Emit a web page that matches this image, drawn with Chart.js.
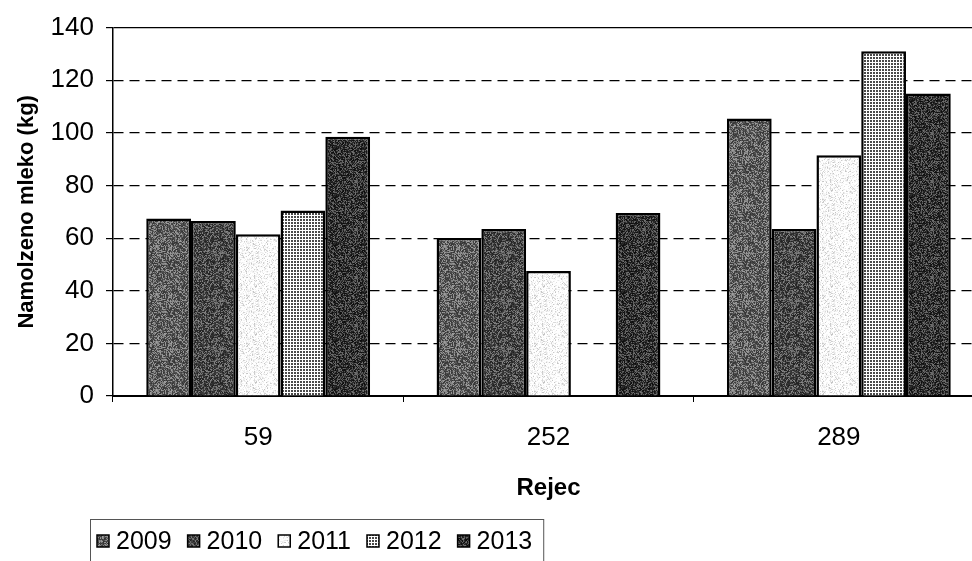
<!DOCTYPE html>
<html>
<head>
<meta charset="utf-8">
<script src="https://cdn.jsdelivr.net/npm/chart.js@4"></script>
<style>
  html, body { margin: 0; padding: 0; background: #fff; overflow: hidden; }
  canvas { display: block; }
</style>
</head>
<body>
<canvas id="myChart" width="1000" height="561"></canvas>
<script>
// cows (by number) and milk yield per year
var cows = ['59', '252', '289'];
var years = ['2009', '2010', '2011', '2012', '2013'];
var milk2009 = [67.5, 60, 105.5];
var milk2010 = [66.5, 63.5, 63.5];
var milk2011 = [61.5, 47.5, 91.5];
var milk2012 = [70.5, null, 131];
var milk2013 = [98.5, 69.5, 115];
var yTicks = [0, 20, 40, 60, 80, 100, 120, 140];

Chart.defaults.font.family = '"Liberation Sans", Arial, sans-serif';
Chart.defaults.color = '#000';

// small deterministic hash for the grainy print textures
function hash(x, y, s) {
    var h = (x * 374761393 + y * 668265263 + s * 982451653) | 0;
    h = Math.imul(h ^ (h >>> 13), 1274126177);
    return ((h ^ (h >>> 16)) >>> 0) / 4294967295;
}

function grain(seed, lo, hi, pLo) {
    var c = document.createElement('canvas');
    c.width = 48; c.height = 48;
    var g = c.getContext('2d');
    var img = g.createImageData(48, 48);
    for (var y = 0; y < 48; y++) {
        for (var x = 0; x < 48; x++) {
            var r = hash(x, y, seed);
            var v = r < pLo ? lo : hi;
            v += (hash(y, x, seed + 7) - 0.5) * 40;
            var i = (y * 48 + x) * 4;
            img.data[i] = img.data[i + 1] = img.data[i + 2] = Math.max(0, Math.min(255, v));
            img.data[i + 3] = 255;
        }
    }
    g.putImageData(img, 0, 0);
    return g.createPattern(c, 'repeat');
}

function dots() {
    var c = document.createElement('canvas');
    c.width = 3; c.height = 3;
    var g = c.getContext('2d');
    g.fillStyle = '#fff';
    g.fillRect(0, 0, 3, 3);
    g.fillStyle = '#4a4a4a';
    g.fillRect(0, 0, 2, 2);
    return g.createPattern(c, 'repeat');
}

var fills = [
    grain(1, 70, 140, 0.6),
    grain(2, 50, 115, 0.62),
    grain(3, 215, 255, 0.18),
    dots(),
    grain(4, 30, 95, 0.6)
];

// legend drawn below the axis title, boxed like the spreadsheet original
var boxLegend = {
    id: 'boxLegend',
    afterDraw: function (chart) {
        var c = chart.ctx;
        c.save();
        c.font = '25px "Liberation Sans", Arial, sans-serif';
        c.textBaseline = 'middle';
        var x = 97, y = 541;
        years.forEach(function (yr, i) {
            c.fillStyle = fills[i];
            c.fillRect(x, y - 6, 12, 12);
            c.strokeStyle = '#000';
            c.lineWidth = 1.5;
            c.strokeRect(x, y - 6, 12, 12);
            c.fillStyle = '#000';
            c.fillText(yr, x + 19, y + 1);
            x += 19 + c.measureText(yr).width + 16;
        });
        c.strokeStyle = '#555';
        c.lineWidth = 1;
        c.strokeRect(90.5, 519.5, x - 90 - 5, 60);
        c.restore();
    }
};

var ctx = document.getElementById('myChart').getContext('2d');
var series = [milk2009, milk2010, milk2011, milk2012, milk2013];

var myChart = new Chart(ctx, {
    type: 'bar',
    data: {
        labels: cows,
        datasets: series.map(function (d, i) {
            return {
                label: years[i],
                data: d,
                backgroundColor: fills[i],
                borderColor: '#000',
                borderWidth: 2.5,
                categoryPercentage: 0.771,
                barPercentage: 1
            };
        })
    },
    options: {
        responsive: false,
        animation: false,
        layout: {
            padding: { top: 27, right: 16, left: 0, bottom: 0 }
        },
        plugins: {
            legend: { display: false },
            tooltip: { enabled: false }
        },
        scales: {
            x: {
                afterFit: function (s) { s.height = 165; },
                grid: {
                    drawOnChartArea: false,
                    drawTicks: true,
                    tickLength: 6,
                    color: '#000'
                },
                border: { color: '#000', width: 2 },
                ticks: {
                    font: { size: 26 },
                    padding: 20
                },
                title: {
                    display: true,
                    text: 'Rejec',
                    font: { size: 24, weight: 'bold' },
                    padding: { top: 0, bottom: 58 }
                }
            },
            y: {
                min: 0,
                max: 140,
                afterFit: function (s) { s.width = 113; },
                afterBuildTicks: function (s) {
                    s.ticks = yTicks.map(function (v) { return { value: v }; });
                },
                grid: {
                    color: '#000',
                    lineWidth: 1.2,
                    tickLength: 7
                },
                border: {
                    color: '#000',
                    width: 1.5,
                    dash: function (c) {
                        return c.tick && c.tick.value === 140 ? [] : [10, 6];
                    }
                },
                ticks: {
                    font: { size: 26 },
                    padding: 12
                },
                title: {
                    display: true,
                    text: 'Namolzeno mleko (kg)',
                    font: { size: 22, weight: 'bold' },
                    padding: { top: 14, bottom: 0 }
                }
            }
        }
    },
    plugins: [boxLegend]
});
</script>
</body>
</html>
